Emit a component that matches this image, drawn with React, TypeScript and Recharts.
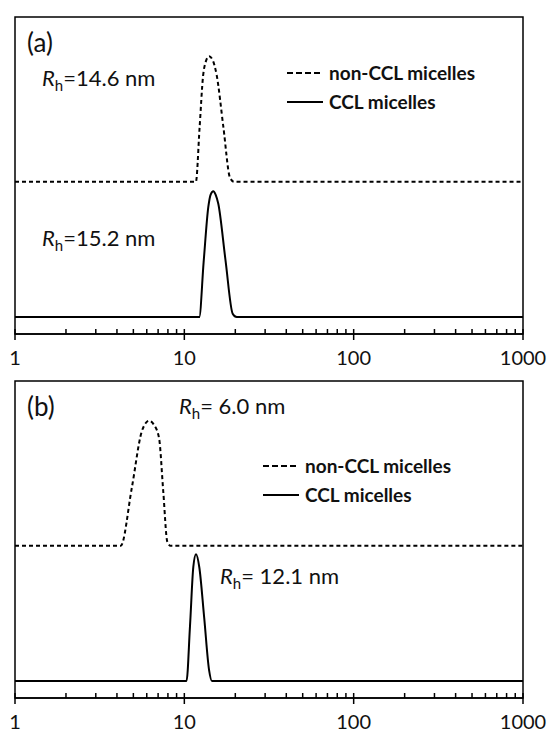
import { LineChart, Line, XAxis, YAxis, ReferenceArea } from 'recharts';

// hydrodynamic diameter axis ticks (log)
const axisTicks = [1, 2, 3, 4, 5, 6, 7, 8, 9, 10, 20, 30, 40, 50, 60, 70, 80, 90, 100, 200, 300, 400, 500, 600, 700, 800, 900, 1000];
const majorTicks = [1, 10, 100, 1000];

// panel (a)
const sizeA_non = [1, 11.7, 12.3, 12.9, 13.4, 14.0, 14.7, 15.5, 17.0, 18.6, 19.7, 1000];
const intA_non = [0, 0, 12.7, 25, 28.5, 29.7, 28.8, 25.4, 13, 1, 0, 0];
const sizeA_ccl = [1, 12.25, 13.0, 13.85, 14.3, 14.83, 15.3, 15.87, 17.5, 19.3, 20.4, 1000];
const intA_ccl = [0, 0, 13, 26, 29, 29.8, 29, 26.8, 13.5, 0.8, 0, 0];

// panel (b)
const sizeB_non = [1, 4.21, 4.89, 5.6, 5.9, 6.18, 6.6, 7.09, 7.51, 7.93, 8.31, 1000];
const intB_non = [0, 0, 13.6, 27, 29, 29.6, 28.7, 25.5, 12.8, 1, 0, 0];
const sizeB_ccl = [1, 10.3, 10.8, 11.3, 11.72, 12.25, 13.1, 14.0, 14.56, 1000];
const intB_ccl = [0, 0, 13, 27, 30, 27, 15, 2.6, 0, 0];

// vertical offset of the non-CCL trace
const stackOffset = 32;
const yMin = -4;
const yMax = 71;

const FONT = 'Lato, "Noto Sans", sans-serif';

const toRows = (xs: number[], ys: number[], off = 0) => xs.map((x, i) => ({ x, y: ys[i] + off }));

function LogTick(props: any) {
  const { x, y, payload } = props;
  const v = payload.value;
  const major = majorTicks.includes(v);
  return (
    <g>
      <line x1={x} x2={x} y1={y - 5} y2={major ? y + 6 : y} stroke="#000" strokeWidth={1.5} />
      {major && (
        <text x={x} y={y + 31} textAnchor="middle" fontSize={20} fontFamily={FONT} fill="#111">
          {v}
        </text>
      )}
    </g>
  );
}

function Panel({ non, ccl }: { non: { x: number; y: number }[]; ccl: { x: number; y: number }[] }) {
  return (
    <LineChart width={547} height={370} margin={{ top: 17, right: 24, bottom: 6, left: 15 }}>
      <XAxis
        type="number"
        dataKey="x"
        scale="log"
        domain={[1, 1000]}
        ticks={axisTicks}
        interval={0}
        tick={<LogTick />}
        tickLine={false}
        tickSize={0}
        tickMargin={0}
        height={30}
        axisLine={{ stroke: '#000', strokeWidth: 1.5 }}
        allowDataOverflow
      />
      <YAxis hide type="number" domain={[yMin, yMax]} allowDataOverflow />
      <ReferenceArea x1={1} x2={1000} y1={yMin} y2={yMax} fill="none" stroke="#000" strokeWidth={1.5} ifOverflow="visible" />
      <Line data={non} dataKey="y" type="monotone" stroke="#000" strokeWidth={2} strokeDasharray="4 3" dot={false} isAnimationActive={false} />
      <Line data={ccl} dataKey="y" type="monotone" stroke="#000" strokeWidth={2} dot={false} isAnimationActive={false} />
    </LineChart>
  );
}

function Rh({ x, y, value }: { x: number; y: number; value: string }) {
  return (
    <text x={x} y={y} fontSize={22} fontFamily={FONT} fill="#111">
      <tspan fontStyle="italic">R</tspan>
      <tspan fontSize={15} dy={5}>h</tspan>
      <tspan dy={-5}>{value}</tspan>
    </text>
  );
}

function LegendBox({ x, y }: { x: number; y: number }) {
  return (
    <g fontFamily={FONT} fontWeight="bold" fontSize={19} fill="#111">
      <line x1={x} x2={x + 36} y1={y} y2={y} stroke="#000" strokeWidth={2} strokeDasharray="6 3" />
      <text x={x + 42} y={y + 7}>non-CCL micelles</text>
      <line x1={x} x2={x + 36} y1={y + 29} y2={y + 29} stroke="#000" strokeWidth={2} />
      <text x={x + 42} y={y + 36}>CCL micelles</text>
    </g>
  );
}

export default function App() {
  return (
    <div style={{ position: 'absolute', left: 0, top: 0, width: 547, height: 734, background: '#fff' }}>
      <div style={{ position: 'absolute', left: 0, top: 0 }}>
        <Panel non={toRows(sizeA_non, intA_non, stackOffset)} ccl={toRows(sizeA_ccl, intA_ccl)} />
      </div>
      <div style={{ position: 'absolute', left: 0, top: 364 }}>
        <Panel non={toRows(sizeB_non, intB_non, stackOffset)} ccl={toRows(sizeB_ccl, intB_ccl)} />
      </div>
      <svg width={547} height={734} style={{ position: 'absolute', left: 0, top: 0, pointerEvents: 'none' }}>
        <text x={27} y={52} fontSize={26} fontFamily={FONT} fill="#111">(a)</text>
        <Rh x={42} y={86} value="=14.6 nm" />
        <Rh x={42} y={246} value="=15.2 nm" />
        <LegendBox x={287} y={73} />
        <text x={27} y={416} fontSize={26} fontFamily={FONT} fill="#111">(b)</text>
        <Rh x={179} y={414} value="= 6.0 nm" />
        <Rh x={220} y={584} value="= 12.1 nm" />
        <LegendBox x={263} y={466} />
      </svg>
    </div>
  );
}
